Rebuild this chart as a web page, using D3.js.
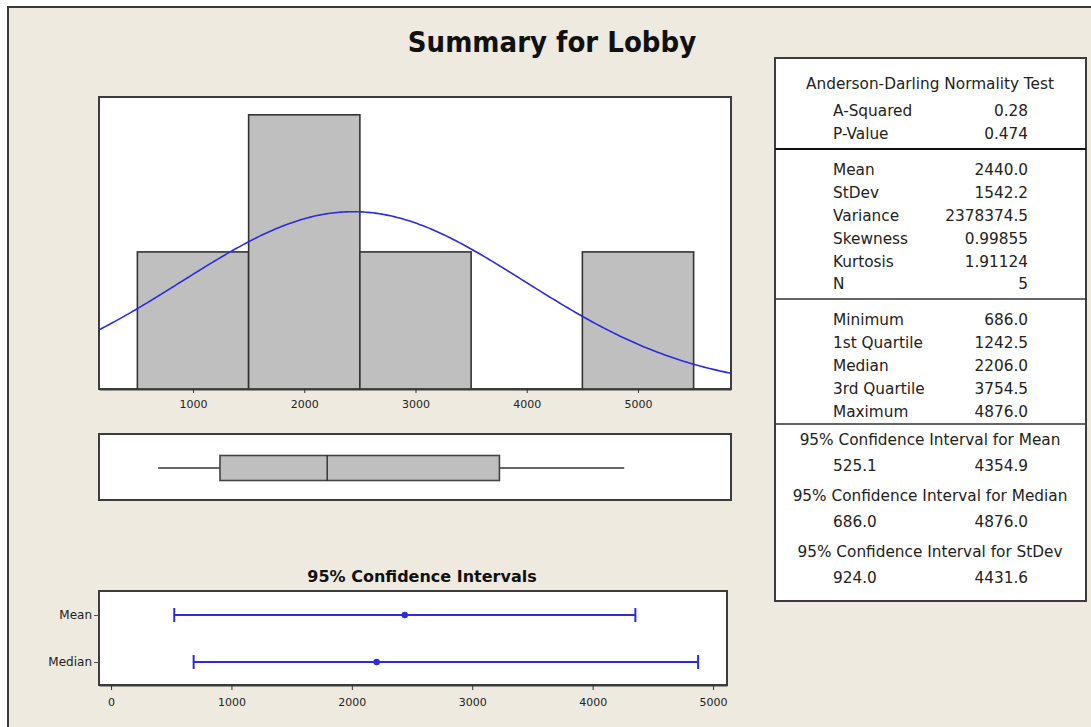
<!DOCTYPE html>
<html lang="en">
<head>
  <meta charset="UTF-8">
  <title>Summary for Lobby</title>
  <script src="https://d3js.org/d3.v7.min.js"></script>
  <style>
    body { margin: 0; background: #eeeae0; }
    svg text { font-family: "DejaVu Sans", sans-serif; fill: #222; }
  </style>
</head>
<body>
  <div id="chart"></div>

  <script>
    // Histogram bins and counts
    const binEdges = [500, 1500, 2500, 3500, 4500, 5500];
    const binCounts = [1, 2, 1, 0, 1];
    const histTicks = [1000, 2000, 3000, 4000, 5000];

    // Descriptive statistics
    const adLabels = ["A-Squared", "P-Value"];
    const adValues = ["0.28", "0.474"];
    const descLabels = ["Mean", "StDev", "Variance", "Skewness", "Kurtosis", "N"];
    const descValues = [2440.0, 1542.2, 2378374.5, 0.99855, 1.91124, 5];
    const descDecimals = [1, 1, 1, 5, 5, 0];
    const quantLabels = ["Minimum", "1st Quartile", "Median", "3rd Quartile", "Maximum"];
    const quantValues = [686.0, 1242.5, 2206.0, 3754.5, 4876.0];

    // 95% confidence intervals
    const ciTitles = ["95% Confidence Interval for Mean", "95% Confidence Interval for Median", "95% Confidence Interval for StDev"];
    const ciLow = [525.1, 686.0, 924.0];
    const ciHigh = [4354.9, 4876.0, 4431.6];
    const ciRows = ["Mean", "Median"];
    const ciCentres = [2440.0, 2206.0];
    const ciTicks = [0, 1000, 2000, 3000, 4000, 5000];

    const W = 1091, H = 727;
    const blue = "#2b2bdf";
    const grey = "#bfbfbf";
    const frame = "#3c3c3c";
    const cond = "'DejaVu Sans Condensed', 'DejaVu Sans', sans-serif";

    const svg = d3.select("#chart").append("svg")
      .attr("width", W)
      .attr("height", H);

    // outer window frame
    svg.append("rect").attr("x", 0).attr("y", 0).attr("width", W).attr("height", H).attr("fill", "#ffffff");
    svg.append("rect")
      .attr("x", 8).attr("y", 7).attr("width", W + 10).attr("height", H + 10)
      .attr("fill", "#eeeae0").attr("stroke", "#3a3a3a").attr("stroke-width", 2);

    svg.append("text")
      .attr("x", 552).attr("y", 52)
      .attr("text-anchor", "middle")
      .attr("font-size", 29).attr("font-weight", "bold")
      .style("font-family", cond)
      .style("fill", "#111")
      .text("Summary for Lobby");

    // --- Histogram with normal fit ---
    const hist = { left: 99, right: 731, top: 97, bottom: 389 };
    const x = d3.scaleLinear().domain([155, 5836]).range([hist.left, hist.right]);
    const y = d3.scaleLinear().domain([0, 2.13]).range([hist.bottom, hist.top]);

    svg.append("rect")
      .attr("x", hist.left).attr("y", hist.top)
      .attr("width", hist.right - hist.left).attr("height", hist.bottom - hist.top)
      .attr("fill", "#fff").attr("stroke", frame).attr("stroke-width", 2);

    const bins = binCounts.map((c, i) => ({ x0: binEdges[i], x1: binEdges[i + 1], c }));
    svg.append("g").selectAll("rect")
      .data(bins.filter(d => d.c > 0))
      .join("rect")
      .attr("x", d => x(d.x0))
      .attr("y", d => y(d.c))
      .attr("width", d => x(d.x1) - x(d.x0))
      .attr("height", d => y(0) - y(d.c))
      .attr("fill", grey)
      .attr("stroke", "#333")
      .attr("stroke-width", 1.6);

    // fitted normal curve from the mean and stdev above, scaled to counts
    const mu = descValues[0], sd = descValues[1], n = descValues[5];
    const binW = binEdges[1] - binEdges[0];
    const xs = d3.range(x.domain()[0], x.domain()[1] + 1, 20);
    const curve = d3.line()
      .x(v => x(v))
      .y(v => y(n * binW * Math.exp(-0.5 * ((v - mu) / sd) ** 2) / (sd * Math.sqrt(2 * Math.PI))));
    svg.append("path")
      .datum(xs)
      .attr("fill", "none")
      .attr("stroke", blue)
      .attr("stroke-width", 1.6)
      .attr("d", curve);

    const xAxis = svg.append("g")
      .attr("transform", `translate(0,${hist.bottom})`)
      .call(d3.axisBottom(x).tickValues(histTicks).tickFormat(d3.format("d"))
        .tickSize(4).tickSizeOuter(0).tickPadding(7));
    xAxis.select(".domain").attr("stroke", frame).attr("stroke-width", 2);
    xAxis.selectAll(".tick line").attr("stroke", "#333");
    xAxis.selectAll("text").attr("font-size", 11);

    // --- Boxplot ---
    const bp = { top: 434, bottom: 500, mid: 468, half: 12.5 };
    svg.append("rect")
      .attr("x", hist.left).attr("y", bp.top)
      .attr("width", hist.right - hist.left).attr("height", bp.bottom - bp.top)
      .attr("fill", "#fff").attr("stroke", frame).attr("stroke-width", 2);

    const [qMin, q1, qMed, q3, qMax] = quantValues;
    svg.append("line")
      .attr("x1", x(qMin)).attr("x2", x(q1)).attr("y1", bp.mid).attr("y2", bp.mid)
      .attr("stroke", "#333").attr("stroke-width", 1.3);
    svg.append("line")
      .attr("x1", x(q3)).attr("x2", x(qMax)).attr("y1", bp.mid).attr("y2", bp.mid)
      .attr("stroke", "#333").attr("stroke-width", 1.3);
    svg.append("rect")
      .attr("x", x(q1)).attr("y", bp.mid - bp.half)
      .attr("width", x(q3) - x(q1)).attr("height", bp.half * 2)
      .attr("fill", grey).attr("stroke", "#444").attr("stroke-width", 1.6);
    svg.append("line")
      .attr("x1", x(qMed)).attr("x2", x(qMed))
      .attr("y1", bp.mid - bp.half).attr("y2", bp.mid + bp.half)
      .attr("stroke", "#222").attr("stroke-width", 1.3);

    // --- 95% confidence intervals ---
    const ci = { left: 99, right: 727, top: 591, bottom: 685 };
    const xc = d3.scaleLinear().domain([-100, 5116]).range([ci.left, ci.right]);
    const yc = d3.scalePoint().domain(ciRows).range([615, 662]);

    svg.append("text")
      .attr("x", 422).attr("y", 582)
      .attr("text-anchor", "middle")
      .attr("font-size", 16).attr("font-weight", "bold")
      .style("fill", "#111")
      .text("95% Confidence Intervals");

    svg.append("rect")
      .attr("x", ci.left).attr("y", ci.top)
      .attr("width", ci.right - ci.left).attr("height", ci.bottom - ci.top)
      .attr("fill", "#fff").attr("stroke", frame).attr("stroke-width", 2);

    const ciGroup = svg.append("g").selectAll("g")
      .data(ciRows.map((r, i) => ({ r, lo: ciLow[i], hi: ciHigh[i], c: ciCentres[i] })))
      .join("g");
    ciGroup.append("line")
      .attr("x1", d => xc(d.lo)).attr("x2", d => xc(d.hi))
      .attr("y1", d => yc(d.r)).attr("y2", d => yc(d.r))
      .attr("stroke", blue).attr("stroke-width", 2);
    ciGroup.append("line")
      .attr("x1", d => xc(d.lo)).attr("x2", d => xc(d.lo))
      .attr("y1", d => yc(d.r) - 7).attr("y2", d => yc(d.r) + 7)
      .attr("stroke", blue).attr("stroke-width", 2);
    ciGroup.append("line")
      .attr("x1", d => xc(d.hi)).attr("x2", d => xc(d.hi))
      .attr("y1", d => yc(d.r) - 7).attr("y2", d => yc(d.r) + 7)
      .attr("stroke", blue).attr("stroke-width", 2);
    ciGroup.append("circle")
      .attr("cx", d => xc(d.c)).attr("cy", d => yc(d.r)).attr("r", 3.2)
      .attr("fill", blue);

    const yAxis = svg.append("g")
      .attr("transform", `translate(${ci.left},0)`)
      .call(d3.axisLeft(yc).tickSize(5).tickSizeOuter(0).tickPadding(2));
    yAxis.select(".domain").remove();
    yAxis.selectAll(".tick line").attr("stroke", "#555");
    yAxis.selectAll("text").attr("font-size", 12);

    const cAxis = svg.append("g")
      .attr("transform", `translate(0,${ci.bottom})`)
      .call(d3.axisBottom(xc).tickValues(ciTicks).tickFormat(d3.format("d"))
        .tickSize(5).tickSizeOuter(0).tickPadding(8));
    cAxis.select(".domain").attr("stroke", frame).attr("stroke-width", 2);
    cAxis.selectAll(".tick line").attr("stroke", "#333");
    cAxis.selectAll("text").attr("font-size", 11);

    // --- Statistics table ---
    const tb = { left: 775, right: 1086, top: 58, bottom: 601, labelX: 833, valueX: 1028, mid: 930 };
    svg.append("rect")
      .attr("x", tb.left).attr("y", tb.top)
      .attr("width", tb.right - tb.left).attr("height", tb.bottom - tb.top)
      .attr("fill", "#fff").attr("stroke", frame).attr("stroke-width", 2);
    [[149, 2.2, "#111"], [299, 1.6, "#333"], [424, 1.6, "#333"]].forEach(([ly, w, c]) => {
      svg.append("line")
        .attr("x1", tb.left).attr("x2", tb.right).attr("y1", ly).attr("y2", ly)
        .attr("stroke", c).attr("stroke-width", w);
    });

    const fs = 15.3;
    function row(label, value, ry) {
      svg.append("text").attr("x", tb.labelX).attr("y", ry).attr("dy", "0.35em")
        .attr("font-size", fs).text(label);
      svg.append("text").attr("x", tb.valueX).attr("y", ry).attr("dy", "0.35em")
        .attr("font-size", fs).attr("text-anchor", "end").text(value);
    }

    svg.append("text").attr("x", tb.mid).attr("y", 84).attr("dy", "0.35em")
      .attr("font-size", fs).attr("text-anchor", "middle").text("Anderson-Darling Normality Test");
    adLabels.forEach((l, i) => row(l, adValues[i], 111 + i * 22.5));
    descLabels.forEach((l, i) => row(l, descValues[i].toFixed(descDecimals[i]), 170 + i * 22.8));
    quantLabels.forEach((l, i) => row(l, quantValues[i].toFixed(1), 320 + i * 23));

    ciTitles.forEach((t, i) => {
      const ty = 440 + i * 56;
      svg.append("text").attr("x", tb.mid).attr("y", ty).attr("dy", "0.35em")
        .attr("font-size", fs).attr("text-anchor", "middle").text(t);
      row(ciLow[i].toFixed(1), ciHigh[i].toFixed(1), ty + 26);
    });
  </script>
</body>
</html>
